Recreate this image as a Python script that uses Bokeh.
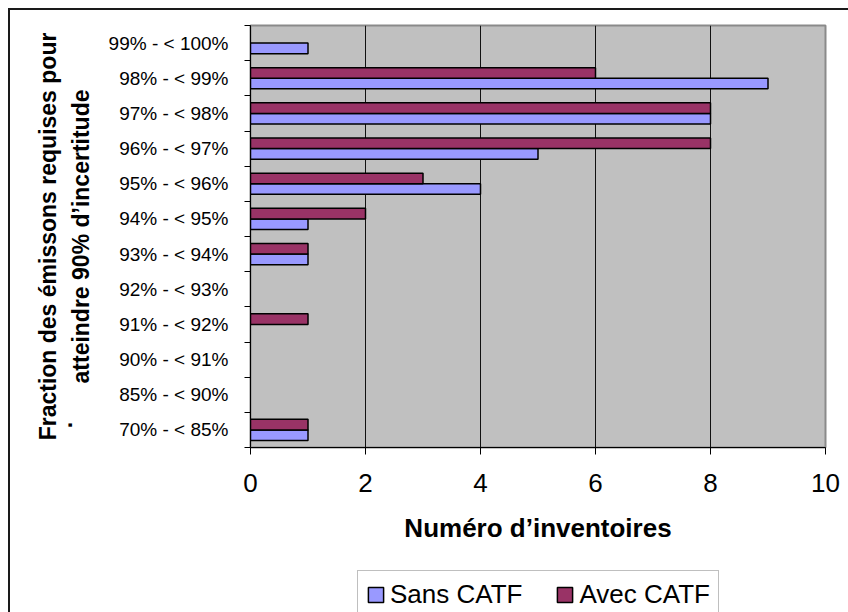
from bokeh.plotting import figure
from bokeh.layouts import column
from bokeh.models import Range1d, FixedTicker, ColumnDataSource, Legend, LegendItem
from bokeh.embed import file_html
from bokeh.resources import INLINE

# Categories from bottom to top
categories = ["70% - < 85%", "85% - < 90%", "90% - < 91%", "91% - < 92%",
              "92% - < 93%", "93% - < 94%", "94% - < 95%", "95% - < 96%",
              "96% - < 97%", "97% - < 98%", "98% - < 99%", "99% - < 100%"]
sans_catf = [1, 0, 0, 0, 0, 1, 1, 4, 5, 8, 9, 1]
avec_catf = [1, 0, 0, 1, 0, 1, 2, 3, 8, 8, 6, 0]
x_ticks = [0, 2, 4, 6, 8, 10]
series_names = ["Sans CATF", "Avec CATF"]
series_colors = ["#9999FF", "#993366"]

positions = list(range(1, len(categories) + 1))
BAR_H = 0.3
OFF = 0.15

def nonzero(vals, shift):
    ys = [p + shift for p, v in zip(positions, vals) if v != 0]
    xs = [v for v in vals if v != 0]
    return ColumnDataSource(dict(y=ys, right=xs))

src_sans = nonzero(sans_catf, -OFF)
src_avec = nonzero(avec_catf, OFF)

FONT = "Liberation Sans"

p = figure(width=838, height=560, output_backend="svg", toolbar_location=None,
           x_range=Range1d(0, 10), y_range=Range1d(0.5, len(categories) + 0.5),
           min_border_left=240, min_border_right=23, min_border_top=15, min_border_bottom=123)

p.background_fill_color = "#C0C0C0"
p.border_fill_color = "white"
p.outline_line_color = "#8a8a8a"
p.outline_line_width = 2

p.hbar(y="y", right="right", left=0, height=BAR_H, source=src_sans,
       fill_color=series_colors[0], line_color="black", line_width=1.5)
p.hbar(y="y", right="right", left=0, height=BAR_H, source=src_avec,
       fill_color=series_colors[1], line_color="black", line_width=1.5)

# x axis
xa = p.xaxis[0]
xa.ticker = FixedTicker(ticks=x_ticks)
xa.major_tick_out = 7
xa.major_tick_in = 0
xa.minor_tick_line_color = None
xa.axis_line_color = "black"
xa.major_tick_line_color = "black"
xa.major_label_text_font = FONT
xa.major_label_text_font_size = "26px"
xa.major_label_text_color = "black"
xa.major_label_standoff = 19
xa.axis_label = "Numéro d’inventoires"
xa.axis_label_text_font = FONT
xa.axis_label_text_font_size = "26px"
xa.axis_label_text_font_style = "bold"
xa.axis_label_text_color = "black"
xa.axis_label_standoff = 18

# y axis: labels at centres, ticks at boundaries
ya = p.yaxis[0]
ya.ticker = FixedTicker(ticks=positions, minor_ticks=[q - 0.5 for q in positions] + [positions[-1] + 0.5])
ya.major_label_overrides = {q: c for q, c in zip(positions, categories)}
ya.major_tick_out = 0
ya.major_tick_in = 0
ya.minor_tick_out = 6
ya.minor_tick_in = 0
ya.minor_tick_line_color = "black"
ya.axis_line_color = "black"
ya.major_label_text_font = FONT
ya.major_label_text_font_size = "19px"
ya.major_label_text_color = "black"
ya.major_label_standoff = 16
ya.axis_label = ("Fraction des émissons requises pour\n"
                 "." + "\u00a0" * 59 + "\n"
                 "atteindre 90% d’incertitude")
ya.axis_label_text_font = FONT
ya.axis_label_text_font_size = "23px"
ya.axis_label_text_font_style = "bold"
ya.axis_label_text_color = "black"
ya.axis_label_text_line_height = 0.62
ya.axis_label_standoff = 12

p.xgrid.ticker = FixedTicker(ticks=[2, 4, 6, 8])
p.xgrid.grid_line_color = "#111111"
p.xgrid.grid_line_width = 1
p.ygrid.grid_line_color = None

# Legend strip below the chart (its frame is aligned with the chart's frame)
pl = figure(width=838, height=42, output_backend="svg", toolbar_location=None,
            x_range=Range1d(0, 10), y_range=Range1d(0, 1),
            min_border_left=240, min_border_right=23, min_border_top=0, min_border_bottom=0)
pl.axis.visible = False
pl.grid.visible = False
pl.outline_line_color = None
pl.background_fill_color = "white"
pl.border_fill_color = "white"
items = []
nan = float("nan")
for name, col in zip(series_names, series_colors):
    # key-only renderer (no visible bar), used for the legend swatch
    r = pl.hbar(y=[nan], right=[nan], left=0, height=0.1, fill_color=col,
                line_color="black", line_width=1.5)
    items.append(LegendItem(label=name, renderers=[r]))

legend = Legend(items=items, orientation="horizontal", location=(107, -6.5))
legend.label_text_font = FONT
legend.label_text_font_size = "26px"
legend.label_text_color = "black"
legend.glyph_width = 19
legend.glyph_height = 19
legend.label_standoff = 5
legend.spacing = 33
legend.padding = 8
legend.margin = 0
legend.border_line_color = "#808080"
legend.border_line_width = 1
legend.background_fill_color = "white"
legend.background_fill_alpha = 1
pl.add_layout(legend, "center")

layout = column(p, pl, spacing=0)
layout.margin = (8, 0, 0, 8)
layout.styles = {"border-left": "2px solid #1a1a1a", "border-top": "2px solid #1a1a1a"}

open("out.html", "w").write(file_html(layout, INLINE))
